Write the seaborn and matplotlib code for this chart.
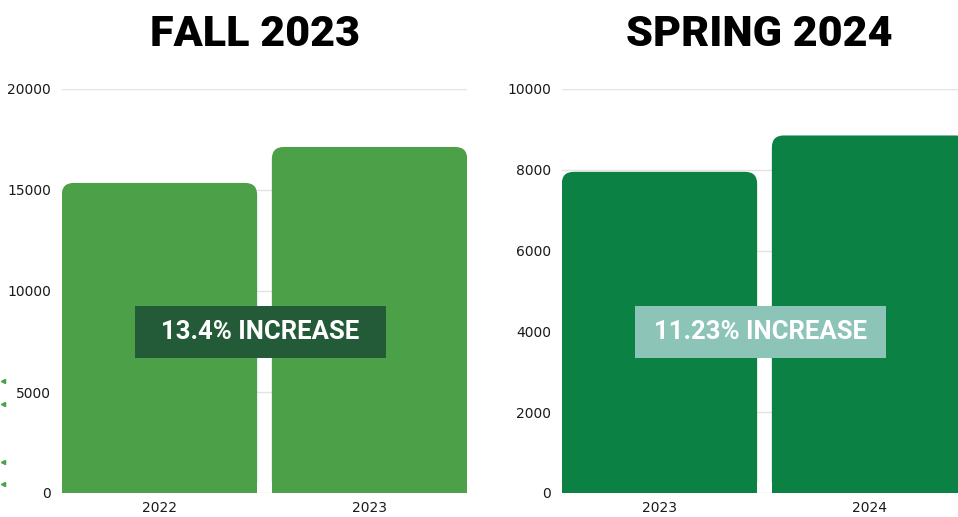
import matplotlib
matplotlib.use("Agg")
import matplotlib.pyplot as plt
import seaborn as sns
import pandas as pd
from matplotlib.patches import FancyBboxPatch, Rectangle
from matplotlib.lines import Line2D

# ---- data ----
fall_years = ["2022", "2023"]
fall_values = [15350, 17130]
spring_years = ["2023", "2024"]
spring_values = [7950, 8850]
titles = ["FALL 2023", "SPRING 2024"]
labels = ["13.4% INCREASE", "11.23% INCREASE"]
fall_ticks = [0, 5000, 10000, 15000, 20000]
spring_ticks = [0, 2000, 4000, 6000, 8000, 10000]

sns.set_theme(style="white")
plt.rcParams["font.family"] = ["DejaVu Sans"]

fig = plt.figure(figsize=(9.58, 5.17), dpi=100)
ax1 = fig.add_axes([62 / 958, 24 / 517, 405 / 958, 404 / 517])
ax2 = fig.add_axes([562 / 958, 24 / 517, 405 / 958, 404 / 517])

panels = [
    (ax1, fall_years, fall_values, fall_ticks, "#4ca048", "#235a37", labels[0]),
    (ax2, spring_years, spring_values, spring_ticks, "#0b8243", "#8cc4b8", labels[1]),
]

for ax, yrs, vals, ticks, col, boxcol, lab in panels:
    df = pd.DataFrame({"year": yrs, "value": vals})
    sns.barplot(data=df, x="year", y="value", ax=ax, color=col, saturation=1,
                width=0.93, zorder=3)
    ax.set_xlim(-0.464, 1.464)
    ax.set_ylim(0, ticks[-1])
    ax.set_yticks(ticks)
    ax.set_yticklabels([str(t) for t in ticks])
    ax.set_xlabel("")
    ax.set_ylabel("")
    for s in ax.spines.values():
        s.set_visible(False)
    ax.yaxis.grid(True, color="#e3e3e3", linewidth=1, zorder=0)
    ax.xaxis.grid(False)
    ax.set_axisbelow(True)
    ax.tick_params(axis="y", length=0, pad=8, labelsize=10, labelcolor="#1a1a1a")
    ax.tick_params(axis="x", length=0, pad=6, labelsize=10, labelcolor="#1a1a1a")
    for t in ax.get_xticklabels() + ax.get_yticklabels():
        t.set_fontweight("medium")
    ax.patch.set_alpha(0)

    # rounded top corners
    xr = 0.057
    yr = 12 / 404 * ticks[-1]
    for p in list(ax.patches):
        x, y, w, h = p.get_x(), p.get_y(), p.get_width(), p.get_height()
        p.set_visible(False)
        ax.add_patch(FancyBboxPatch((x, y), w, h,
                                    boxstyle=f"round,pad=0,rounding_size={xr}",
                                    mutation_aspect=yr / xr, facecolor=col,
                                    edgecolor="none", zorder=3))
        ax.add_patch(Rectangle((x, y), w, h / 2, facecolor=col, edgecolor="none", zorder=3))

    # label box
    ax.add_patch(Rectangle((0.181, 0.334), 0.618, 0.129, transform=ax.transAxes,
                           facecolor=boxcol, edgecolor="none", zorder=5, clip_on=False))
    ax.text(0.49, 0.398, lab, transform=ax.transAxes, ha="center", va="center",
            color="white", fontsize=18.5, fontweight="bold",
            family=["Roboto", "DejaVu Sans"], zorder=6)

for xc, title in zip([255, 759], titles):
    fig.text(xc / 958, 1 - 34 / 517, title, ha="center", va="center",
             fontsize=31, fontweight="black", family=["Roboto", "DejaVu Sans"],
             color="black")

# small clipped markers at left edge
for yy in [381, 404, 462, 484]:
    fig.add_artist(Line2D([3 / 958], [1 - yy / 517], marker="<", markersize=3,
                          color="#4ca048", linestyle="none", transform=fig.transFigure))

fig.savefig("out.png", dpi=100)
